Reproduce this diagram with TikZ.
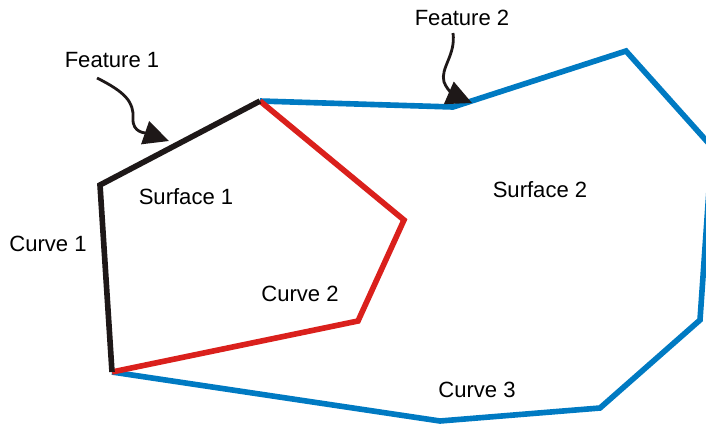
\documentclass[tikz,border=0pt]{standalone}
\usepackage{fontspec}
\setmainfont{Liberation Sans}
\usetikzlibrary{arrows.meta}

\definecolor{edgeblue}{RGB}{0,122,194}
\definecolor{edgered}{RGB}{218,32,28}
\definecolor{edgeblack}{RGB}{30,24,24}

\tikzset{
  edge/.style={line width=4pt,line join=miter},
  lbl/.style={font=\fontsize{15.7}{18}\selectfont,inner sep=0pt},
  pointer/.style={line width=2pt,-{Triangle[length=18pt,width=17pt]}}
}

\begin{document}
\begin{tikzpicture}[x=0.025cm,y=-0.025cm]
  \useasboundingbox (0,0) rectangle (706,424);
  \clip (0,0) rectangle (706,424);

  % corner points
  \coordinate (top) at (260,101);
  \coordinate (left) at (100,185);
  \coordinate (bot) at (112,372);

  % surface 2 outline
  \draw[edge,edgeblue] (top) -- (453,107) -- (626,51) -- (712,147)
    -- (700,320) -- (600,408) -- (440,421) -- (bot);

  % shared curve
  \draw[edge,edgered] (top) -- (404,220) -- (358,321) -- (bot);

  % curve 1 and feature 1
  \draw[edge,edgeblack] (top) -- (left) -- (bot);

  \node[lbl] (f1) at (112,60) {Feature 1};
  \node[lbl] (f2) at (462,18) {Feature 2};
  \node[lbl] (s1) at (186,197) {Surface 1};
  \node[lbl] (s2) at (540,190) {Surface 2};
  \node[lbl] (c1) at (48,244) {Curve 1};
  \node[lbl] (c2) at (300,294) {Curve 2};
  \node[lbl] (c3) at (477,390) {Curve 3};

  \coordinate (a1) at (97,78);
  \coordinate (t1) at (169,141);
  \coordinate (a2) at (453,33);
  \coordinate (t2) at (472,103);

  \draw[pointer,edgeblack] (a1) .. controls (125,92) and (134,102) .. (133,118)
    .. controls (132,133) and (146,133) .. (t1);
  \draw[pointer,edgeblack] (a2) .. controls (456,55) and (440,68) .. (444,82)
    .. controls (448,92) and (456,96) .. (t2);
\end{tikzpicture}
\end{document}
